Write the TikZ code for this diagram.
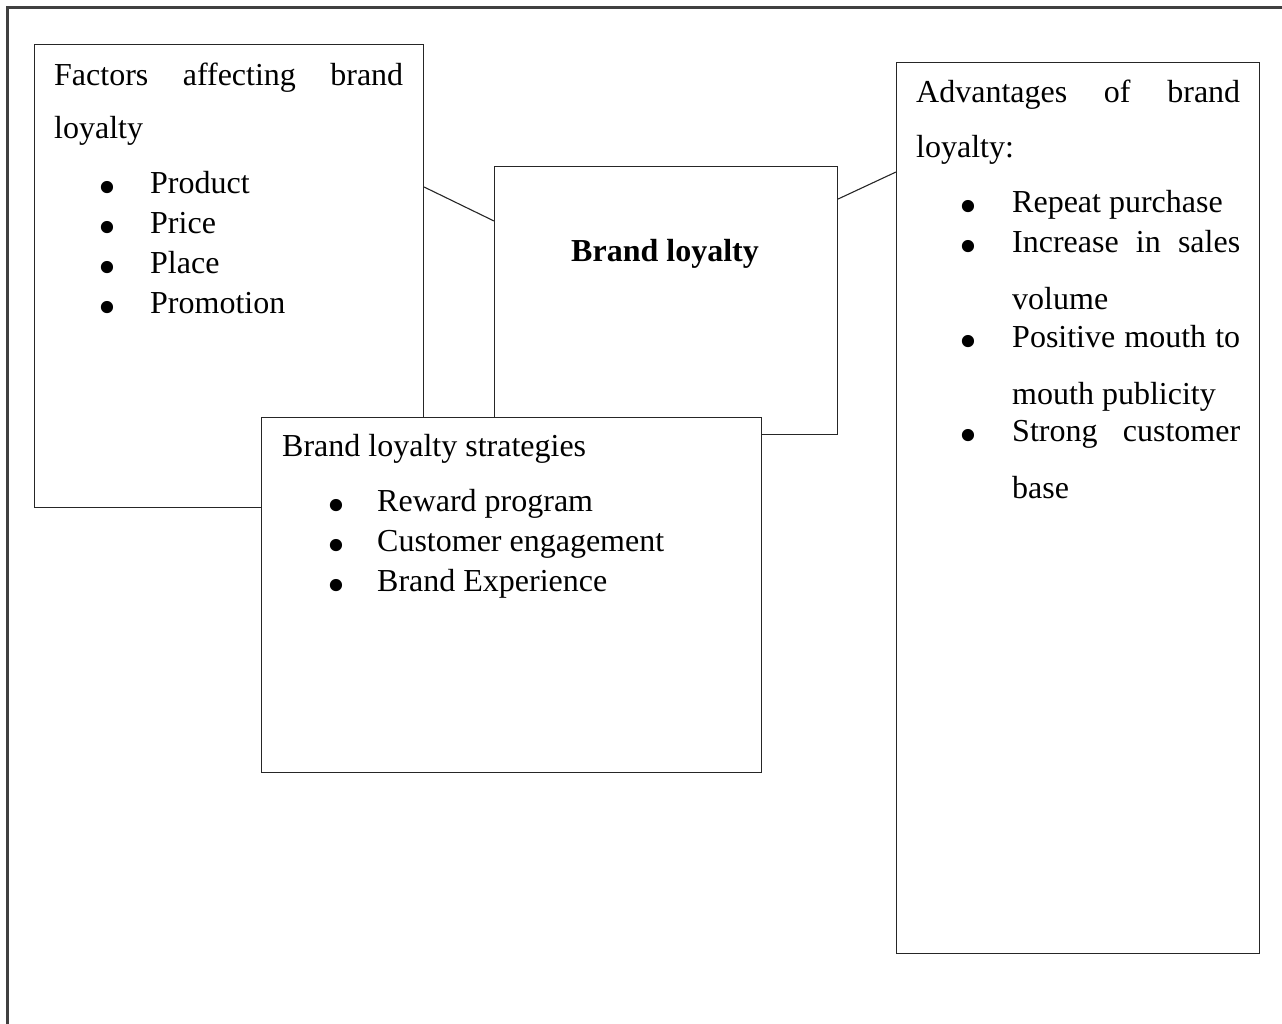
\documentclass[tikz,border=0pt]{standalone}
\usepackage{fontspec}
\setmainfont{Liberation Serif}
\usetikzlibrary{calc}
\newcommand\bulmark[1]{\makebox[0pt][c]{\smash{\raisebox{-11pt}{\scalebox{1.6}{•}}}}\hspace{#1}}
\begin{document}
\begin{tikzpicture}[x=1pt,y=-1pt,
  box/.style={draw=black!85, line width=1.1pt, inner sep=0pt, anchor=north west},
  txt/.style={inner sep=0pt, anchor=base west, font=\fontsize{32}{40}\selectfont},
  link/.style={draw=black!85, line width=1.1pt},
  frame/.style={draw=black!75, line width=3pt}]
\useasboundingbox (0,0) rectangle (1282,1023);
% outer frame
\draw[frame] (7,1030) -- (7,7) -- (1290,7);
% boxes
\node[box, minimum width=389pt, minimum height=463pt] (fac) at (34,44) {};
\node[box, minimum width=343pt, minimum height=268pt] (core) at (494,166) {};
\node[box, minimum width=363pt, minimum height=891pt] (adv) at (896,62) {};
\draw[link] ($(fac.north east)+(0,143)$) -- ($(core.north west)+(0,55)$);
\draw[link] ($(core.north east)+(0,33)$) -- ($(adv.north west)+(0,110)$);
\node[box, fill=white, minimum width=500pt, minimum height=355pt] (str) at (261,417) {};
% factors text
\node[txt] (f1) at (54,85) {\makebox[349pt][s]{Factors affecting brand}};
\node[txt] (f2) at (54,138) {loyalty};
\node[txt] (fi1) at (107,193) {\bulmark{43pt}Product};
\node[txt] (fi2) at (107,233) {\bulmark{43pt}Price};
\node[txt] (fi3) at (107,273) {\bulmark{43pt}Place};
\node[txt] (fi4) at (107,313) {\bulmark{43pt}Promotion};
% core text
\node[inner sep=0pt, anchor=base, font=\fontsize{32}{40}\selectfont\bfseries] (c1) at (665,261) {Brand loyalty};
% advantages text
\node[txt] (a1) at (916,102) {\makebox[324pt][s]{Advantages of brand}};
\node[txt] (a2) at (916,157) {loyalty:};
\node[txt] (ai1) at (968,212) {\bulmark{44pt}Repeat purchase};
\node[txt] (ai2) at (968,252) {\bulmark{44pt}\makebox[228pt][s]{Increase in sales}};
\node[txt] (ai2b) at (1012,309) {volume};
\node[txt] (ai3) at (968,347) {\bulmark{44pt}\makebox[228pt][s]{Positive mouth to}};
\node[txt] (ai3b) at (1012,404) {mouth publicity};
\node[txt] (ai4) at (968,441) {\bulmark{44pt}\makebox[228pt][s]{Strong customer}};
\node[txt] (ai4b) at (1012,498) {base};
% strategies text
\node[txt] (s1) at (282,456) {Brand loyalty strategies};
\node[txt] (si1) at (336,511) {\bulmark{41pt}Reward program};
\node[txt] (si2) at (336,551) {\bulmark{41pt}Customer engagement};
\node[txt] (si3) at (336,591) {\bulmark{41pt}Brand Experience};
\end{tikzpicture}
\end{document}
